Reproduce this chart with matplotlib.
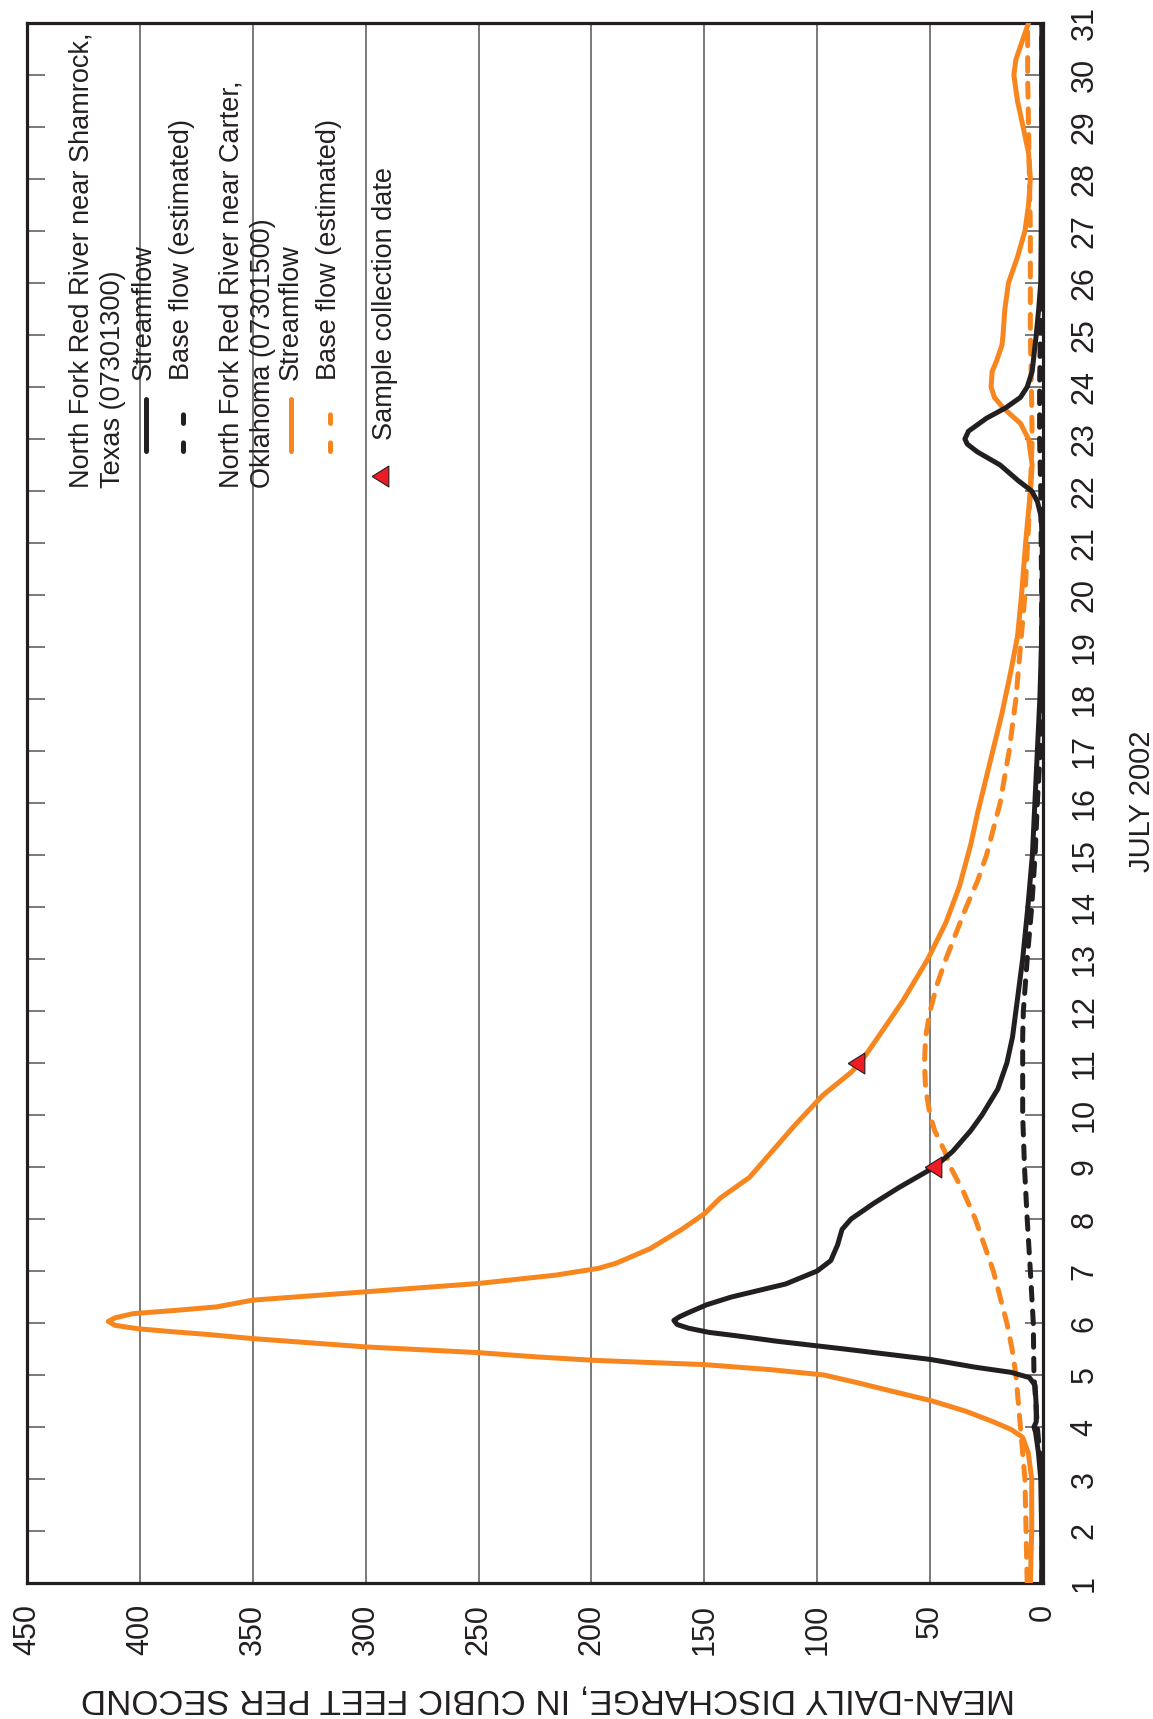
import matplotlib
matplotlib.use("Agg")
import matplotlib.pyplot as plt
from matplotlib.lines import Line2D

plt.rcParams["font.family"] = ["Liberation Sans", "DejaVu Sans"]
plt.rcParams["lines.scale_dashes"] = False

# Donnees (jour de juillet 2002, debit en pi3/s)
jours_shamrock = [1.0, 2.0, 3.0, 3.5, 3.9, 4.0, 4.1, 4.4, 4.8, 4.95, 5.05, 5.15, 5.3, 5.5, 5.65, 5.75,
                  5.82, 5.9, 5.97, 6.05, 6.12, 6.2, 6.35, 6.5, 6.75, 7.0, 7.2, 7.5, 7.8, 8.0, 8.3,
                  8.6, 9.0, 9.3, 9.7, 10.0, 10.5, 11.0, 11.5, 12.0, 13.0, 14.0, 15.0, 16.0, 17.0,
                  18.0, 19.0, 20.0, 21.0, 21.5, 21.8, 22.0, 22.2, 22.5, 22.75, 22.9, 23.0, 23.15,
                  23.4, 23.6, 23.8, 24.0, 24.3, 25.0, 25.5, 26.0, 27.0, 28.0, 29.0, 30.0, 31.0]
debit_shamrock = [0.5, 0.6, 1.0, 2.0, 3.3, 4.0, 3.0, 3.0, 3.5, 6, 14, 30, 50, 88, 118, 135,
                  148, 157, 162, 163.5, 161, 157, 149, 138, 114, 100, 94, 91, 89, 85, 75,
                  64, 48, 40, 32, 27, 20, 16, 13.5, 12, 9, 6.7, 4.7, 3.6, 2.5,
                  1.4, 0.7, 0.4, 0.3, 0.8, 2.5, 5, 11, 19, 29, 33.5, 34.6, 33,
                  25, 16.5, 10, 7, 4.8, 3.0, 1.9, 1.0, 0.8, 0.7, 0.6, 0.6, 0.5]

jours_base_shamrock = [1.0, 3.0, 4.0, 5.0, 6.0, 7.0, 8.0, 9.0, 10.0, 11.0, 11.5, 12.0, 13.0, 14.0,
                       15.0, 16.0, 17.0, 18.0, 20.0, 22.0, 23.0, 24.0, 25.0, 26.0, 31.0]
base_shamrock = [0.5, 0.5, 2.5, 4, 4.3, 5.6, 7, 8.2, 9, 9, 9, 8.7, 7, 5,
                 3.5, 2.5, 1.2, 0.8, 0.6, 1.0, 1.5, 1.5, 1.2, 0.6, 0.5]

jours_carter = [1.0, 2.0, 3.0, 3.5, 3.8, 3.95, 4.1, 4.3, 4.5, 4.7, 4.85, 5.0, 5.1, 5.2, 5.28, 5.35,
                5.43, 5.54, 5.7, 5.78, 5.83, 5.89, 5.955, 6.03, 6.1, 6.18, 6.24, 6.31, 6.44, 6.6,
                6.76, 6.92, 7.05, 7.15, 7.43, 7.8, 8.1, 8.4, 8.8, 9.2, 9.8, 10.38, 10.82, 11.0,
                11.5, 12.2, 13.0, 13.7, 14.4, 15.2, 15.8, 16.6, 17.7, 18.5, 19.2, 20.0, 21.0,
                22.0, 22.5, 23.0, 23.3, 23.6, 23.8, 24.0, 24.3, 24.5, 24.8, 25.0, 25.5, 26.0,
                26.5, 27.0, 27.5, 28.0, 28.5, 29.0, 29.5, 30.0, 30.3, 30.6, 31.0]
debit_carter = [5.6, 5.0, 5.0, 6.5, 9, 14, 22, 34, 49, 68, 82, 97, 120, 150, 198, 225,
                250, 300, 350, 370, 385, 401, 411, 414, 411, 403, 385, 366, 350, 300,
                250, 216, 197, 189, 174, 160, 150, 143, 130, 122, 110, 97.5, 85, 81,
                73, 62, 51, 43, 37, 32, 29, 24.5, 18.3, 14.4, 11.3, 9.5, 7.7,
                5.6, 4.8, 6.4, 10, 17.7, 21.5, 23, 22.5, 20.6, 18.2, 17.7, 16.9, 15.3,
                11.3, 8, 6.4, 5.6, 6.4, 8.8, 11.3, 12.9, 12, 9.6, 6.4]

jours_base_carter = [1.0, 2.0, 3.0, 4.0, 4.5, 5.0, 5.5, 6.0, 6.5, 7.0, 7.5, 8.0, 8.5, 9.0, 9.3,
                     9.7, 10.0, 10.5, 11.0, 11.5, 12.0, 12.5, 13.0, 13.5, 14.0, 14.5, 15.0, 15.5,
                     16.0, 17.0, 18.0, 19.0, 20.0, 21.0, 22.0, 23.0, 24.0, 25.0, 26.0, 27.0,
                     28.0, 29.0, 30.0, 31.0]
base_carter = [7, 7.5, 8, 10, 11, 12, 13.7, 16, 19, 22, 26, 30, 35, 41, 43.5,
               48, 50, 52, 52.5, 52, 50, 47, 43, 38.5, 34, 29, 25, 22,
               19, 15, 12, 10, 8, 6.8, 5.6, 4.8, 5.1, 5.6, 5.6, 5.6,
               6, 6.4, 6.8, 6.8]

jours_echantillon = [9, 11]
debit_echantillon = [48.5, 83]

graduations_debit = list(range(0, 451, 50))
graduations_jours = list(range(1, 32))

# Couleurs
NOIR = "#231f20"
ORANGE = "#f7861f"
ROUGE = "#ed1c24"
EP = 3.6  # epaisseur des courbes

W, H = 1153, 1719
fig = plt.figure(figsize=(W / 100, H / 100), dpi=100)
ax = fig.add_axes([27 / W, 1 - 1583 / H, (1043 - 27) / W, (1583 - 23) / H])


def fx(px):
    return px / W


def fy(py):
    return 1 - py / H


# triangle pointe a gauche (graphique tourne)
triangle = [(-0.8, 0), (0.8, 1), (0.8, -1), (-0.8, 0)]

# Courbes (le graphique est tourne : debit en x, jours en y)
ax.plot(base_carter, jours_base_carter, color=ORANGE, lw=EP, dashes=(10, 8.5),
        dash_capstyle="round", zorder=3)
ax.plot(debit_carter, jours_carter, color=ORANGE, lw=EP, solid_capstyle="round",
        solid_joinstyle="round", zorder=3)
ax.plot(base_shamrock, jours_base_shamrock, color=NOIR, lw=EP, dashes=(9, 8),
        dash_capstyle="round", zorder=4)
ax.plot(debit_shamrock, jours_shamrock, color=NOIR, lw=EP, solid_capstyle="round",
        solid_joinstyle="round", zorder=4)
ax.plot(debit_echantillon, jours_echantillon, ls="none", marker=triangle, ms=15,
        mfc=ROUGE, mec=NOIR, mew=0.8, zorder=5)

ax.set_xlim(450, 0)
ax.set_ylim(1, 31)
ax.set_xticks(graduations_debit)
ax.set_yticks(graduations_jours)
ax.grid(axis="x", color="#555555", lw=1.1)
ax.set_axisbelow(True)

for s in ax.spines.values():
    s.set_linewidth(2.3)
    s.set_color(NOIR)

ax.tick_params(axis="x", length=0, pad=15, labelsize=22, labelcolor=NOIR, labelrotation=90)
ax.tick_params(axis="y", direction="in", left=True, right=True, labelleft=False,
               labelright=True, length=13, width=1.1, color="#555555", pad=19,
               labelsize=22, labelcolor=NOIR, labelrotation=90)
for lab in ax.get_yticklabels():
    lab.set_va("center")

# Titres des axes
fig.text(fx(1142), 0.534, "JULY 2002", rotation=90, ha="center", va="center",
         fontsize=21, color=NOIR)
fig.text(fx(548), fy(1699), "MEAN-DAILY DISCHARGE, IN CUBIC FEET PER SECOND", rotation=180,
         ha="center", va="center", fontsize=25, color=NOIR)

# Legende (texte tourne)
legende = [
    (89, 488, "North Fork Red River near Shamrock,"),
    (120, 488, "Texas (07301300)"),
    (151, 380, "Streamflow"),
    (189, 380, "Base flow (estimated)"),
    (239, 488, "North Fork Red River near Carter,"),
    (270, 488, "Oklahoma (07301500)"),
    (298, 380, "Streamflow"),
    (336, 380, "Base flow (estimated)"),
    (392, 440, "Sample collection date"),
]
for x, y, t in legende:
    fig.text(fx(x), fy(y), t, rotation=90, rotation_mode="anchor", ha="left",
             va="baseline", fontsize=19.5, color=NOIR)

fig.add_artist(Line2D([fx(146), fx(146)], [fy(451), fy(399)], transform=fig.transFigure,
                      color=NOIR, lw=EP, solid_capstyle="round"))
fig.add_artist(Line2D([fx(183), fx(183)], [fy(451), fy(396)], transform=fig.transFigure,
                      color=NOIR, lw=EP, dashes=(6.2, 14), dash_capstyle="round"))
fig.add_artist(Line2D([fx(291), fx(291)], [fy(451), fy(399)], transform=fig.transFigure,
                      color=ORANGE, lw=EP, solid_capstyle="round"))
fig.add_artist(Line2D([fx(330), fx(330)], [fy(451), fy(396)], transform=fig.transFigure,
                      color=ORANGE, lw=EP, dashes=(6.2, 14), dash_capstyle="round"))
fig.add_artist(Line2D([fx(380)], [fy(476)], transform=fig.transFigure, ls="none",
                      marker=triangle, ms=15, mfc=ROUGE, mec=NOIR, mew=0.8))

fig.savefig("out.png", dpi=100)
